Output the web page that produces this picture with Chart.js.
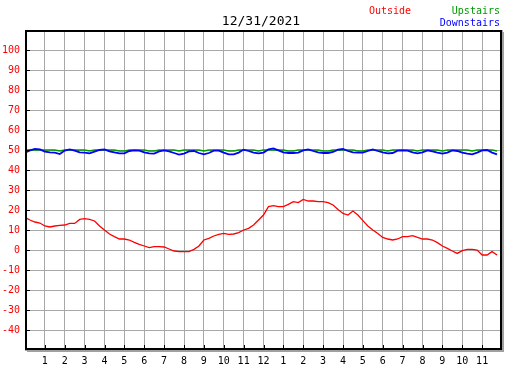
<!DOCTYPE html>
<html>
<head>
<meta charset="utf-8">
<title>12/31/2021</title>
<script src="https://cdn.jsdelivr.net/npm/chart.js@4/dist/chart.umd.min.js"></script>
<style>
body { margin: 0; background: #fff; }
#wrap { position: relative; width: 527px; height: 370px; font-family: "DejaVu Sans Mono", monospace; }
#wrap canvas { position: absolute; left: 0; top: 0; }
.txt { position: absolute; white-space: pre; font-size: 10px; line-height: 12px; }
#title { left: 161px; width: 200px; top: 13px; text-align: center; font-size: 13px; line-height: 15px; color: #000; }
</style>
</head>
<body>
<div id="wrap">
  <canvas id="grafico" width="527" height="370"></canvas>
  <div id="title" class="txt">12/31/2021</div>
  <div id="legOut" class="txt" style="left:369px; top:5px;"></div>
  <div id="legUp" class="txt" style="right:27px; top:5px;"></div>
  <div id="legDown" class="txt" style="right:27px; top:17px;"></div>
</div>
<script>
// Leituras a cada 15 minutos (00:00 ate 23:45)
const outside = [
    16.3, 15, 14, 13.5, 12, 11.5, 12, 12.3, 12.5, 13.3,
    13.3, 15.3, 15.7, 15.3, 14.5, 12, 10, 8, 6.7, 5.5,
    5.5, 5, 3.8, 2.8, 2, 1.2, 1.7, 1.7, 1.5, 0.5,
    -0.5, -0.8, -0.8, -0.8, 0.3, 2, 5, 5.8, 7, 7.8,
    8.3, 7.8, 8, 8.7, 10, 10.8, 12.5, 15, 17.5, 21.7,
    22.2, 21.7, 21.7, 22.8, 24.2, 23.7, 25.3, 24.5, 24.5, 24.2,
    24.2, 23.7, 22.5, 20.3, 18.3, 17.5, 19.5, 17.5, 14.7, 12,
    10, 8.3, 6.3, 5.5, 5, 5.5, 6.7, 6.7, 7.2, 6.3,
    5.5, 5.5, 5, 3.7, 2, 0.8, -0.5, -1.7, -0.3, 0.3,
    0.3, 0, -2.5, -2.5, -0.8, -2.5
];

const upstairs = [
    50, 50, 50, 50, 50, 50, 50, 49.5, 50, 50,
    50, 50, 50, 49.5, 50, 50, 50, 50, 50, 49.5,
    49.5, 50, 50, 50, 50, 49.5, 49.5, 50, 50, 50,
    50, 49.5, 50, 50, 50, 50, 49.5, 50, 50, 50,
    50, 49.5, 49.5, 50, 50, 50, 50, 49.5, 50, 50,
    50, 50, 50, 49.5, 49.5, 50, 50, 50, 50, 50,
    49.5, 49.5, 50, 50, 50, 50, 50, 49.5, 49.5, 50,
    50, 50, 50, 49.5, 50, 50, 50, 50, 50, 49.5,
    50, 50, 50, 50, 49.5, 50, 50, 50, 50, 50,
    49.5, 50, 50, 50, 50, 49.5
];

const downstairs = [
    48.7, 49.8, 50.5, 50.3, 49.2, 48.8, 48.7, 48, 49.7, 50.3,
    49.7, 48.8, 48.7, 48.3, 49.2, 50, 50.3, 49.3, 48.8, 48.3,
    48.3, 49.5, 49.8, 49.7, 48.8, 48.3, 48.2, 49.3, 49.8, 49.3,
    48.5, 47.7, 48.2, 49.3, 49.5, 48.5, 47.8, 48.5, 49.7, 49.7,
    48.7, 47.8, 47.8, 48.7, 50.2, 49.5, 48.7, 48.3, 48.7, 50.3,
    50.8, 49.8, 48.8, 48.5, 48.5, 48.7, 49.8, 50.3, 49.5, 48.8,
    48.5, 48.5, 49, 50.2, 50.5, 49.5, 48.8, 48.7, 48.7, 49.5,
    50.3, 49.5, 48.8, 48.3, 48.5, 49.7, 49.8, 49.7, 48.8, 48.3,
    48.8, 49.8, 49.3, 48.7, 48.2, 48.7, 49.8, 49.5, 48.7, 48.2,
    47.8, 48.7, 49.8, 50, 48.7, 47.8
];

// Rotulos das horas no eixo X (0 a 24)
const hourLabels = ['', '1', '2', '3', '4', '5', '6', '7', '8', '9', '10', '11', '12',
    '1', '2', '3', '4', '5', '6', '7', '8', '9', '10', '11', ''];

const seriesNames = ['Outside', 'Upstairs', 'Downstairs'];
const seriesColors = ['#ff0000', '#009900', '#0000ff'];

// Horario de cada leitura, em horas
const times = outside.map((_, i) => i * 0.25);
const toPoints = arr => arr.map((v, i) => ({ x: times[i], y: v }));

// Legenda e titulo como texto
document.getElementById('legOut').innerText = seriesNames[0];
document.getElementById('legOut').style.color = seriesColors[0];
document.getElementById('legUp').innerText = seriesNames[1];
document.getElementById('legUp').style.color = seriesColors[1];
document.getElementById('legDown').innerText = seriesNames[2];
document.getElementById('legDown').style.color = seriesColors[2];

// Moldura preta com sombra e marcas internas
const molduraPlugin = {
    id: 'moldura',
    afterDraw(chart) {
        const { ctx, chartArea: a, scales: { x, y } } = chart;
        ctx.save();
        ctx.fillStyle = '#a0a0a0';
        ctx.fillRect(a.right, a.top + 2, 2, a.bottom - a.top);
        ctx.fillRect(a.left + 2, a.bottom, a.right - a.left, 2);

        ctx.strokeStyle = '#000';
        ctx.lineWidth = 2;
        ctx.strokeRect(a.left + 1, a.top + 1, a.right - a.left - 2, a.bottom - a.top - 2);

        ctx.lineWidth = 1;
        ctx.beginPath();
        y.ticks.forEach(t => {
            if (t.value >= -40 && t.value <= 100) {
                const py = Math.round(y.getPixelForValue(t.value)) + 0.5;
                ctx.moveTo(a.left, py);
                ctx.lineTo(a.left + 5, py);
            }
        });
        x.ticks.forEach(t => {
            if (t.value > 0 && t.value < 24) {
                const px = Math.round(x.getPixelForValue(t.value)) + 0.5;
                ctx.moveTo(px, a.bottom - 5);
                ctx.lineTo(px, a.bottom);
            }
        });
        ctx.stroke();
        ctx.restore();
    }
};

const ctx = document.getElementById('grafico').getContext('2d');
const fonte = { family: 'DejaVu Sans Mono', size: 10 };

const grafico = new Chart(ctx, {
    type: 'line',
    data: {
        datasets: [
            { label: seriesNames[0], data: toPoints(outside), borderColor: seriesColors[0], borderWidth: 1.3, order: 2 },
            { label: seriesNames[1], data: toPoints(upstairs), borderColor: seriesColors[1], borderWidth: 1.5, order: 1 },
            { label: seriesNames[2], data: toPoints(downstairs), borderColor: seriesColors[2], borderWidth: 1.8, order: 0 }
        ]
    },
    options: {
        responsive: false,
        animation: false,
        devicePixelRatio: 1,
        layout: { padding: { top: 30, right: 25, left: 0, bottom: 0 } },
        elements: { point: { radius: 0 }, line: { tension: 0, fill: false } },
        plugins: { legend: { display: false }, tooltip: { enabled: false } },
        scales: {
            x: {
                type: 'linear',
                min: 0,
                max: 24,
                grid: { color: '#a8a8a8', lineWidth: 1, drawTicks: false },
                border: { display: false },
                ticks: {
                    stepSize: 1,
                    autoSkip: false,
                    maxRotation: 0,
                    padding: 5,
                    color: '#000',
                    font: fonte,
                    callback: v => hourLabels[v]
                },
                afterFit: s => { s.height = 20; }
            },
            y: {
                min: -50,
                max: 110,
                grid: { color: '#a8a8a8', lineWidth: 1, drawTicks: false },
                border: { display: false },
                ticks: {
                    stepSize: 10,
                    autoSkip: false,
                    padding: 5,
                    color: '#ff0000',
                    font: fonte,
                    callback: v => (v < -40 || v > 100) ? '' : v
                },
                afterFit: s => { s.width = 25; }
            }
        }
    },
    plugins: [molduraPlugin]
});
</script>
</body>
</html>
